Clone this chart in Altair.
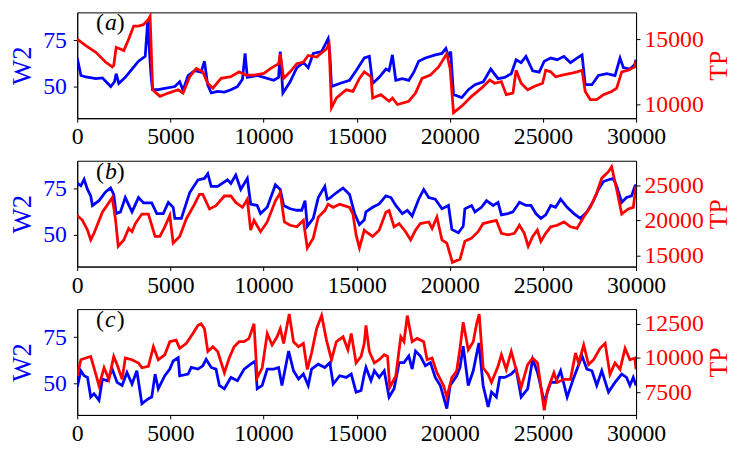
import altair as alt
import pandas as pd

# ---------------- data (x, value) ----------------
a_w2 = [(0,65.5),(200,56),(460,55.2),(1000,54.3),(1350,54.7),(1800,50),(2000,52.6),(2090,57),(2230,51.7),(2580,55),(2940,59.5),(3290,63.8),(3650,66.4),(3780,85.5),(3860,72),(3960,56),(4040,48.3),(4350,48.3),(4700,49),(5240,50),(5500,52.6),(5680,48),(5950,56),(6300,58.6),(6650,57.8),(6830,63.8),(7000,51),(7190,46.6),(7540,47.4),(7900,47),(8250,48.3),(8600,50),(8870,54),(9010,68),(9130,55),(9660,56),(10020,55),(10550,53.4),(10810,55),(10900,69),(11040,46.5),(11430,52.6),(11790,60.3),(12140,63),(12400,60.3),(12670,68),(13120,69),(13470,76),(13560,68),(13650,50),(14090,51.7),(14620,53.4),(14970,58.6),(15410,65.5),(15680,66.4),(15860,51.7),(16210,55),(16570,59.5),(16740,58.6),(16920,67.2),(17100,53.4),(17450,54.3),(17800,53.4),(18070,57.8),(18330,63.8),(18690,65.5),(19220,67.2),(19580,68),(19790,70.7),(19930,66.4),(20050,69),(20200,45.7),(20640,44),(21000,48.3),(21350,51),(21800,52.6),(22200,59.5),(22590,54.3),(22950,55),(23300,57),(23560,64.6),(23830,63),(24090,66.4),(24450,58.6),(24800,57.8),(25070,63.8),(25420,65.5),(25770,64.6),(26130,66.4),(26480,63),(26830,65.5),(27100,67.2),(27270,51),(27630,51),(27980,56),(28430,57),(28870,56),(29140,65.5),(29320,60.3),(29670,59.5),(29930,62),(30000,64.6)]

a_tp = [(0,15000),(460,14500),(1000,14000),(1520,13250),(1880,12875),(1960,13000),(2090,14375),(2320,14250),(2500,14125),(2760,15000),(3030,16000),(3290,16000),(3560,16125),(3820,16500),(3910,16750),(4050,11125),(4440,10625),(4890,10875),(5420,11125),(5680,10875),(6040,12125),(6390,12750),(6740,12500),(7000,11625),(7280,11250),(7720,12000),(8250,12125),(8690,12500),(9040,12250),(9490,12250),(10020,12375),(10370,12750),(10810,13125),(10900,13875),(11080,12000),(11430,12500),(11790,13125),(12140,13250),(12400,13750),(12850,13625),(13380,14250),(13520,14625),(13650,9750),(13920,10500),(14440,11125),(14800,11000),(15150,12000),(15410,12500),(15770,12125),(15860,10500),(16300,10750),(16740,10250),(16920,10500),(17190,10000),(17800,10250),(18160,10875),(18510,12000),(18960,12250),(19400,12875),(19840,13875),(20020,12750),(20200,9375),(20640,9875),(21170,10625),(21700,11250),(22150,11875),(22410,11625),(22770,11750),(23030,10750),(23390,10875),(23560,12625),(23830,11625),(24180,11125),(24530,11375),(24980,11625),(25150,12625),(25420,12500),(25680,12125),(26040,12250),(26480,12375),(26830,12500),(27100,12625),(27270,11000),(27540,10375),(27890,10375),(28250,10750),(28690,11000),(28960,11250),(29230,12500),(29580,12625),(29930,12875),(30000,13375)]

b_w2 = [(0,78.1),(195,76.7),(370,80.2),(550,74.7),(725,71.2),(815,66),(1170,68.6),(1520,73.3),(1790,75.5),(1960,72),(2090,61.6),(2320,62.5),(2580,70.3),(2940,62.5),(3290,70.3),(3560,67.4),(4000,67.4),(4270,61.6),(4620,61.6),(4890,67.7),(5150,65),(5240,59),(5590,59),(6040,73),(6480,79.9),(6830,80.7),(7010,83.3),(7190,76.4),(7540,76.4),(8070,79.9),(8250,78),(8510,82.5),(8780,74.7),(9130,80.7),(9310,66.8),(9660,66),(9840,61.6),(10200,65),(10640,77.3),(10900,74.7),(11080,66),(11430,64.2),(11790,63.4),(12050,63.4),(12230,68.6),(12350,54.7),(12670,59),(12940,70.3),(13290,76.4),(13420,69.4),(13560,70),(13910,72.9),(14270,75.5),(14620,72),(14890,61.6),(15150,55.6),(15410,58.2),(15500,62.5),(15860,65),(16210,66.8),(16570,71.2),(16840,70.3),(17100,66),(17450,61.6),(17720,63.4),(17980,60.3),(18330,69.4),(18600,74.7),(18870,70.3),(19220,69.4),(19580,64.2),(19930,66),(20110,53),(20460,51.2),(20720,54.7),(20810,64.2),(21170,66),(21350,62.5),(21700,65),(21970,68.6),(22330,66),(22590,67.7),(22770,60.9),(23120,61.6),(23390,62.5),(23740,67.7),(24090,66),(24360,66),(24620,61.6),(24890,59),(25150,60.9),(25420,66),(25680,65),(25950,69.4),(26300,65),(26660,61.6),(27010,59),(27360,62.5),(27720,68.6),(27980,74.7),(28250,79),(28520,80),(28780,80.7),(28960,76.4),(29230,67.7),(29490,70.3),(29760,71.2),(29930,76.4),(30000,77.3)]

b_tp = [(0,20700),(280,20000),(550,18600),(725,17200),(900,18150),(1350,21150),(1880,23240),(2050,20230),(2200,16300),(2500,17200),(2760,18840),(2940,18380),(3120,19540),(3470,20900),(3820,20900),(4180,17700),(4440,17700),(4700,19070),(4970,20700),(5150,16760),(5500,17700),(5860,20230),(6300,22300),(6560,23700),(6740,23700),(7100,21620),(7450,22080),(7900,23470),(8250,23470),(8510,22550),(8870,21850),(9130,23000),(9310,18600),(9490,20000),(9840,18380),(10200,19770),(10640,22780),(10900,23935),(11120,19770),(11430,19300),(11790,19070),(12140,20000),(12350,16060),(12670,17450),(12940,20460),(13290,21390),(13470,22300),(13740,21850),(14090,22300),(14620,21850),(14800,20900),(14970,17920),(15150,16060),(15410,18600),(15500,18380),(15860,17700),(16210,18600),(16570,21150),(16740,21390),(17010,19070),(17280,19540),(17630,18380),(17900,17200),(18160,18600),(18420,19540),(18870,19770),(19050,18840),(19310,20460),(19580,17200),(19840,16760),(20140,14000),(20550,14450),(20810,17000),(21170,17450),(21520,18380),(21790,19540),(22150,19770),(22500,20000),(22770,18150),(23120,17920),(23470,18150),(23740,19300),(24000,18150),(24210,16300),(24450,17700),(24700,18600),(24890,17000),(25150,18150),(25420,19070),(25770,19300),(26130,19770),(26480,19070),(26830,18840),(27190,20460),(27540,21850),(27890,23940),(28160,26020),(28520,26940),(28690,27640),(28960,24400),(29230,20900),(29580,21620),(29850,21850),(30000,24860)]

c_w2 = [(0,47.9),(195,56.8),(370,54.1),(550,53.2),(725,42.5),(900,44.3),(1170,40.7),(1350,52.3),(1610,51.4),(1880,57.7),(2140,50.5),(2410,48.8),(2670,55.9),(2940,49.6),(3200,56.8),(3470,38.9),(3820,41.6),(4000,42.5),(4180,55),(4350,47),(4700,54.1),(4970,57.7),(5150,62.1),(5420,63.9),(5500,54.1),(5950,55),(6120,58.6),(6480,57.7),(6740,59.5),(6920,63),(7190,58.6),(7450,57.7),(7630,48.8),(7900,47),(8250,53.2),(8600,51.4),(8960,57.7),(9310,60.4),(9560,62.1),(9660,47),(9930,48.8),(10200,57.7),(10550,57.7),(10810,58.6),(10990,48.8),(11350,67.5),(11610,56.8),(11880,52.3),(12140,55),(12400,48.8),(12580,57.7),(12940,60.4),(13290,58.6),(13560,61.2),(13740,49.6),(14090,54.1),(14440,53.2),(14710,55),(14970,45.2),(15240,46.1),(15410,55),(15500,58.6),(15770,51.4),(15950,56.8),(16210,53.2),(16480,56.8),(16740,42.5),(17010,47),(17280,61.2),(17540,61.2),(17800,64.8),(17980,57.7),(18160,67.5),(18420,64.8),(18690,59.5),(18960,61.2),(19220,53.2),(19490,48.8),(19840,36.3),(20020,48.8),(20370,54.1),(20550,58.6),(20720,70.2),(20990,48.8),(21260,56.8),(21560,71.9),(21790,48.8),(22060,37.1),(22240,45.2),(22500,42.5),(22680,53.2),(22950,53.2),(23300,55),(23560,57.7),(23830,42.5),(24180,47),(24450,63),(24710,55.9),(25070,40),(25420,50.5),(25680,50.5),(25950,56.8),(26300,42.5),(26660,53.2),(27100,64.8),(27360,57.7),(27630,56.8),(27890,48.8),(28160,56.8),(28520,45.2),(28870,50.5),(29230,55),(29490,53.2),(29670,48.8),(29850,53.2),(30000,48.8)]

c_tp = [(0,8690),(195,9880),(460,10000),(725,10120),(1000,8810),(1170,7980),(1440,9290),(1700,8450),(1960,10120),(2140,9525),(2410,8450),(2580,10000),(2940,9880),(3290,9640),(3470,9290),(3820,9400),(4090,10830),(4350,9880),(4700,10240),(4970,11190),(5310,11310),(5500,10710),(5860,11070),(6210,11790),(6480,12380),(6650,12500),(6830,12140),(7010,10480),(7280,10830),(7540,10480),(7900,8930),(8160,10000),(8420,10830),(8690,11190),(8960,11190),(9220,11430),(9490,12500),(9660,8570),(9930,9290),(10200,11790),(10460,10950),(10730,11550),(10900,12140),(11080,11070),(11380,13210),(11610,11190),(11880,10830),(12140,11070),(12350,9170),(12580,10360),(12850,12140),(13120,13100),(13380,11310),(13650,9880),(13910,11190),(14270,11550),(14530,10600),(14710,11790),(14970,9640),(15240,10120),(15410,11070),(15500,12380),(15680,10480),(15950,9640),(16210,9880),(16480,10240),(16660,10120),(16780,7860),(17100,8690),(17370,11550),(17540,11190),(17720,13100),(17980,11190),(18250,11430),(18600,11190),(18780,9880),(19050,10000),(19310,8930),(19670,7980),(19840,7140),(20110,8570),(20370,9050),(20550,10710),(20720,12620),(20990,10600),(21260,11190),(21440,12500),(21580,13210),(21790,9290),(22060,8810),(22240,8220),(22590,9400),(22770,10240),(23030,9170),(23300,10480),(23560,9170),(23830,7860),(24180,9525),(24450,10000),(24710,9640),(25070,6190),(25240,7620),(25590,8930),(25770,8220),(26130,8450),(26480,8450),(26750,10360),(26920,9640),(27190,10950),(27450,9525),(27720,9880),(28070,10710),(28340,11070),(28600,8810),(28870,9640),(29140,9170),(29410,10710),(29670,9880),(29930,10000),(30000,9170)]

x_ticks = [0, 5000, 10000, 15000, 20000, 25000, 30000]
w2_ticks = [50, 75]
w2_domain = [32.8, 90.3]
tp_ticks = {"a": [10000, 15000], "b": [15000, 20000, 25000], "c": [7500, 10000, 12500]}
tp_domains = {"a": [8950, 17050], "b": [13400, 28500], "c": [5850, 13570]}
panel_labels = ["a", "b", "c"]

FONT = "Liberation Serif"
BLUE = "#0000ff"
RED = "#ff0000"
W, H = 565, 107


def frame(pairs):
    return pd.DataFrame(pairs, columns=["x", "v"])


def panel(w2, tp, key):
    xs = alt.Scale(domain=[0, 30000], nice=False, zero=False)
    x_axis = alt.Axis(values=x_ticks, format="d", title=None, labelFlush=False,
                      labelOverlap=False, labelColor="black", labelPadding=3)
    xenc = alt.X("x:Q", scale=xs, axis=x_axis)
    blue = alt.Chart(frame(w2)).mark_line(color=BLUE, strokeWidth=2.8, clip=True).encode(
        x=xenc,
        y=alt.Y("v:Q", scale=alt.Scale(domain=w2_domain, nice=False, zero=False),
                axis=alt.Axis(values=w2_ticks, title="W2", orient="left", labelColor=BLUE,
                              titleColor=BLUE, labelPadding=7, titlePadding=6, labelFlush=False)),
    )
    red = alt.Chart(frame(tp)).mark_line(color=RED, strokeWidth=2.8, clip=True).encode(
        x=xenc,
        y=alt.Y("v:Q", scale=alt.Scale(domain=tp_domains[key], nice=False, zero=False),
                axis=alt.Axis(values=tp_ticks[key], format="d", title="TP", orient="right",
                              labelColor=RED, titleColor=RED, labelPadding=4, titlePadding=2,
                              titleFontSize=26, titleAngle=270, titleBaseline="top",
                              labelFlush=False)),
    )
    lab_df = pd.DataFrame({"t": [key]})
    base = alt.Chart(lab_df)
    lp = base.mark_text(text="(", font=FONT, fontSize=24, align="left", baseline="middle",
                        color="black").encode(x=alt.value(19), y=alt.value(11))
    la = base.mark_text(font=FONT, fontSize=24, fontStyle="italic", align="left",
                        baseline="middle", color="black").encode(
        x=alt.value(28), y=alt.value(11), text="t:N")
    rp = base.mark_text(text=")", font=FONT, fontSize=24, align="left", baseline="middle",
                        color="black").encode(x=alt.value(40), y=alt.value(11))
    return alt.layer(blue, red, lp, la, rp).resolve_scale(y="independent").properties(
        width=W, height=H)


chart = alt.vconcat(
    panel(a_w2, a_tp, "a"),
    panel(b_w2, b_tp, "b"),
    panel(c_w2, c_tp, "c"),
    spacing=43,
    bounds="flush",
).properties(
    padding={"top": 0, "left": 0, "right": 0, "bottom": 0}
).configure_axis(
    labelFont=FONT, titleFont=FONT, labelFontSize=24, titleFontSize=27,
    titleFontWeight="normal", tickColor="black", domainColor="black", tickSize=4,
    grid=False, domainWidth=1, tickWidth=1,
).configure_view(stroke="black", strokeWidth=1)

chart.save("out.html", embed_options={"renderer": "svg", "actions": False})
